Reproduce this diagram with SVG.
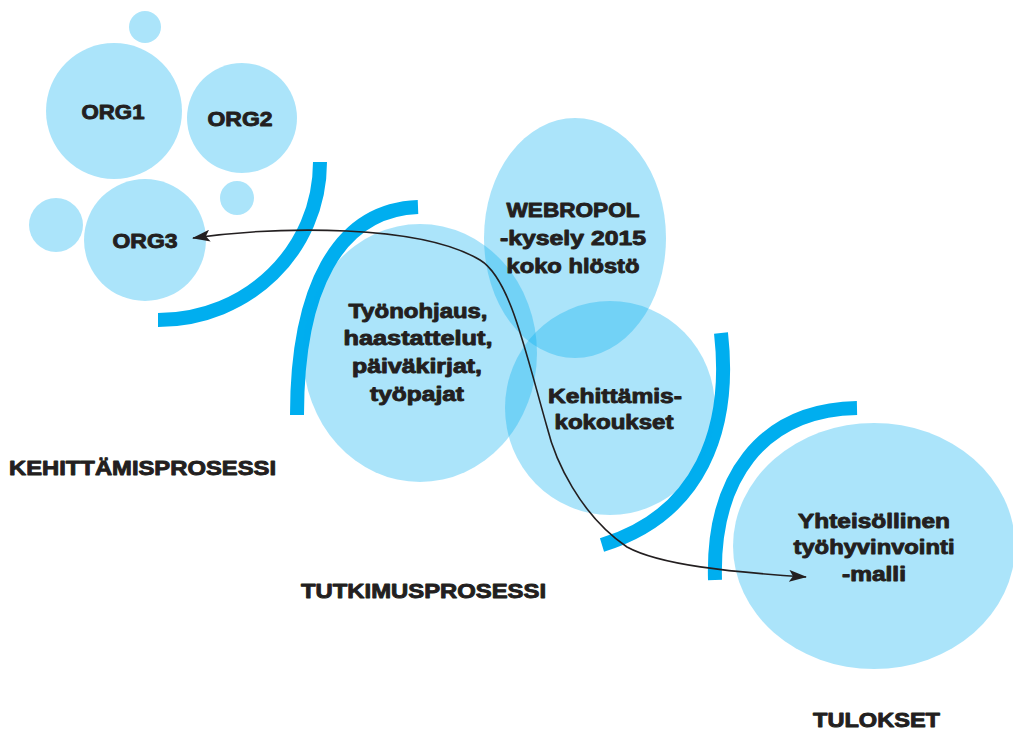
<svg xmlns="http://www.w3.org/2000/svg" width="1013" height="730" viewBox="0 0 1013 730">
<defs>
<style>
.b{fill:#00AEEF;fill-opacity:0.33;stroke:none}
.arc{fill:none;stroke:#00AEEF;stroke-width:14;stroke-linecap:butt}
.t{font-family:"Liberation Sans",Arial,sans-serif;font-weight:bold;font-size:20px;fill:#231F20;stroke:#231F20;stroke-width:0.9;stroke-linejoin:round;text-anchor:middle}
.tl{font-family:"Liberation Sans",Arial,sans-serif;font-weight:bold;font-size:20px;fill:#231F20;stroke:#231F20;stroke-width:0.9;stroke-linejoin:round}
.con{fill:none;stroke:#231F20;stroke-width:1.6}
</style>
<marker id="ah" markerUnits="userSpaceOnUse" markerWidth="18" markerHeight="12" refX="17" refY="6" orient="auto-start-reverse" viewBox="0 0 18 12">
<path d="M0,0 L18,6 L0,12 L4,6 Z" fill="#231F20"/>
</marker>
</defs>
<rect width="1013" height="730" fill="#FFFFFF"/>

<g id="small-circles">
<circle class="b" cx="145" cy="27" r="16"/>
<circle class="b" cx="56" cy="225" r="27"/>
<circle class="b" cx="237" cy="198" r="17"/>
</g>

<g id="org1">
<circle class="b" cx="114" cy="111" r="68"/>
<text class="t" x="113" y="119" textLength="63" lengthAdjust="spacingAndGlyphs">ORG1</text>
</g>
<g id="org2">
<circle class="b" cx="242" cy="118" r="55"/>
<text class="t" x="240" y="126" textLength="65" lengthAdjust="spacingAndGlyphs">ORG2</text>
</g>
<g id="org3">
<circle class="b" cx="145" cy="240" r="61"/>
<text class="t" x="145" y="248" textLength="65" lengthAdjust="spacingAndGlyphs">ORG3</text>
</g>

<g id="arcs">
<path class="arc" d="M 320 162 C 320 250, 248 320, 158 320"/>
<path class="arc" d="M 418 207 C 337 210, 297 290, 297 415"/>
<path class="arc" d="M 721 333 C 732 430, 700 515, 602 545"/>
<path class="arc" d="M 857 408 C 760 410, 712 480, 715 580"/>
</g>

<g id="tyonohjaus">
<ellipse class="b" cx="420" cy="353" rx="117" ry="129"/>
<text class="t" x="418" y="318" textLength="139" lengthAdjust="spacingAndGlyphs">Työnohjaus,</text>
<text class="t" x="418" y="345" textLength="149" lengthAdjust="spacingAndGlyphs">haastattelut,</text>
<text class="t" x="417" y="373" textLength="130" lengthAdjust="spacingAndGlyphs">päiväkirjat,</text>
<text class="t" x="417" y="401" textLength="94" lengthAdjust="spacingAndGlyphs">työpajat</text>
</g>

<g id="webropol">
<ellipse class="b" cx="575" cy="238" rx="91" ry="120"/>
<text class="t" x="573" y="217" textLength="133" lengthAdjust="spacingAndGlyphs">WEBROPOL</text>
<text class="t" x="573" y="245" textLength="146" lengthAdjust="spacingAndGlyphs">-kysely 2015</text>
<text class="t" x="573" y="273" textLength="133" lengthAdjust="spacingAndGlyphs">koko hlöstö</text>
</g>

<g id="kehittamis">
<ellipse class="b" cx="610" cy="408" rx="105" ry="107"/>
<text class="t" x="615" y="403" textLength="134" lengthAdjust="spacingAndGlyphs">Kehittämis-</text>
<text class="t" x="614" y="429" textLength="119" lengthAdjust="spacingAndGlyphs">kokoukset</text>
</g>

<g id="yhteisollinen">
<ellipse class="b" cx="874" cy="546" rx="141" ry="123"/>
<text class="t" x="874" y="528" textLength="152" lengthAdjust="spacingAndGlyphs">Yhteisöllinen</text>
<text class="t" x="874" y="554" textLength="161" lengthAdjust="spacingAndGlyphs">työhyvinvointi</text>
<text class="t" x="874" y="581" textLength="64" lengthAdjust="spacingAndGlyphs">-malli</text>
</g>

<g id="labels">
<text class="tl" x="9" y="475" textLength="267" lengthAdjust="spacingAndGlyphs">KEHITTÄMISPROSESSI</text>
<text class="tl" x="301" y="598" textLength="245" lengthAdjust="spacingAndGlyphs">TUTKIMUSPROSESSI</text>
<text class="tl" x="813" y="727" textLength="127" lengthAdjust="spacingAndGlyphs">TULOKSET</text>
</g>

<g id="connectors">
<path class="con" marker-start="url(#ah)" marker-end="url(#ah)" d="M 193 238 C 280 226, 420 224, 480 260 C 510 278, 525 350, 547 427 C 555 460, 580 515, 627 547 C 660 565, 730 572, 806 577"/>
</g>
</svg>
